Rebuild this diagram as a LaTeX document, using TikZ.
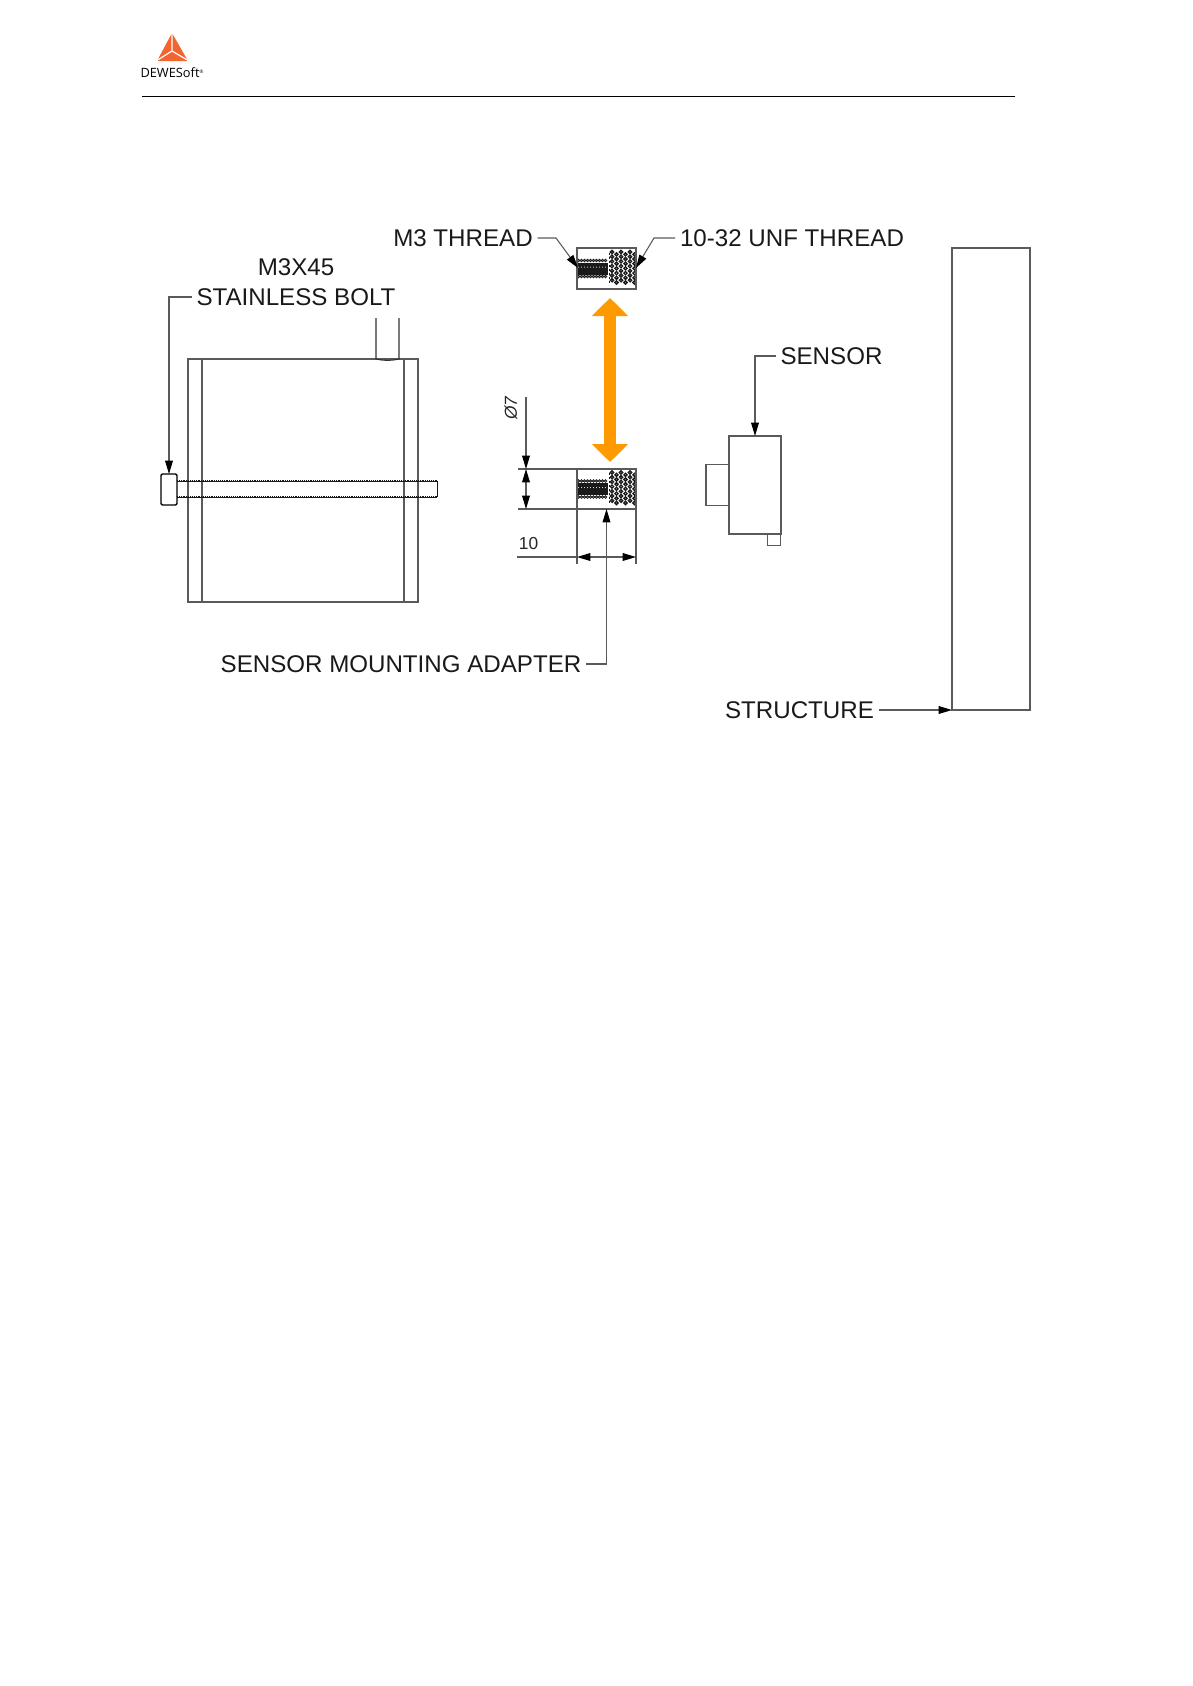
\documentclass[tikz,border=0pt]{standalone}
\usepackage{fontspec}
\setmainfont{Liberation Sans}
\newfontfamily\logofont{Open Sans}
\usetikzlibrary{shapes, arrows.meta, positioning}
\definecolor{linegray}{HTML}{5A5A5A}
\definecolor{threadblack}{HTML}{1A1A1A}
\definecolor{liftorange}{HTML}{FF9900}
\definecolor{logored}{HTML}{F26430}
\tikzstyle{part} = [draw=linegray, line width=.95pt, fill=white, rectangle, inner sep=0pt, outer sep=0pt]
\tikzstyle{callout} = [font=\fontsize{18.1}{20}\selectfont, text=black!90, inner sep=3.5pt]
\tikzstyle{dimtext} = [font=\fontsize{13}{14}\selectfont, text=black!85, inner sep=0pt]
\tikzstyle{leader} = [draw=linegray, line width=.8pt]
\newcommand{\threadbore}{%
  \fill[threadblack] (-29.5,-6) rectangle (1,6);
  \foreach \tx in {-28,-25,...,1} {
    \fill[white] (\tx,-1.5) circle (.5);
    \draw[threadblack, fill=white, line width=.6pt] (\tx,-8) circle (1.3);
    \draw[threadblack, fill=white, line width=.6pt] (\tx,8) circle (1.3);
  }
  \foreach \ty in {-16.5,-11.8,...,16}
    \foreach \tx in {5.5,14.5,23.5} {
      \draw[threadblack, line width=1pt] (\tx,\ty) circle (1.6);
      \draw[threadblack, line width=1pt] (\tx+4.5,\ty+2.3) circle (1.6);
    }
  \draw[threadblack, line width=.7pt, dash pattern=on 1.5pt off 1.5pt] (2.5,-16) -- (2.5,16);
}

\begin{document}
\begin{tikzpicture}[x=.75pt,y=-.75pt,>={Triangle[length=10pt,width=5.8pt,black]}]
      \useasboundingbox (0,0) rectangle (1193,1686);
      % header
      \fill[logored, rounded corners=1pt] (172,33) -- (188,61) -- (157,61) -- cycle;
      \draw[white, line width=.9pt] (172,32) -- (172,51) -- (156,61);
      \draw[white, line width=.9pt] (172,51) -- (189,61);
      \node[font=\logofont\fontsize{9.6}{10}\selectfont, inner sep=0pt] (logo) at (172,73) {DEWESoft\raisebox{.6ex}{\fontsize{3.5}{4}\selectfont ®}};
      \coordinate (ruleL) at (142,96.5);
      \coordinate (ruleR) at (1015,96.5);
      \draw[line width=.9pt] (ruleL) -- (ruleR);
      % plate and bolt
      \node[part, minimum width=172.5pt, minimum height=182.25pt] (plate) at (303,480.5) {};
      \draw[linegray, line width=.95pt] (202,359) -- (202,602);
      \draw[linegray, line width=.95pt] (404,359) -- (404,602);
      \draw[line width=.8pt, black!80] (376,318) -- (376,359) to[bend right=12] (399,359) -- (399,318);
      \node[part, fill=none, minimum width=195pt, minimum height=12pt, draw=none] (shaft) at (307,489) {};
      \draw[line width=.5pt, threadblack] (shaft.south east) -- (shaft.north east);
      \foreach \a/\b in {north west/north east, south west/south east} {
        \draw[threadblack, line width=.7pt] (shaft.\a) -- (shaft.\b);
        \draw[threadblack, line width=1.7pt, dash pattern=on .7pt off .7pt] (shaft.\a) -- (shaft.\b);
      }
      \node[part, draw=black, line width=1.1pt, rounded corners=1pt, minimum width=12pt, minimum height=23.25pt] (head) at (169,489.5) {};
      \node[callout] (boltlabel) at (296,297) {STAINLESS BOLT};
      \node[callout, above of=boltlabel, node distance=22.5pt] (boltsize) {M3X45};
      \draw[leader, ->] (boltlabel.west) -| (head.north);
      % adapter with threads
      \node[part, minimum width=44.25pt, minimum height=30.75pt] (adaptertop) at (606.5,268.5) {};
      \begin{scope}[shift={(adaptertop.center)}]
        \threadbore
      \end{scope}
      \node[part, fill=none, minimum width=44.25pt, minimum height=30.75pt] at (adaptertop) {};
      \node[part, minimum width=44.25pt, minimum height=30pt] (adapter) at (606.5,489) {};
      \begin{scope}[shift={(adapter.center)}]
        \threadbore
      \end{scope}
      \node[part, fill=none, minimum width=44.25pt, minimum height=30pt] at (adapter) {};
      \node[callout] (m3label) at (463,238) {M3 THREAD};
      \node[callout] (unflabel) at (792,238) {10-32 UNF THREAD};
      \coordinate (m3kink) at (556,238);
      \coordinate (m3tip) at (578,268);
      \coordinate (unfkink) at (654,238);
      \coordinate (unftip) at (636,268);
      \draw[leader, ->] (m3label.east) -- (m3kink) -- (m3tip);
      \draw[leader, ->] (unflabel.west) -- (unfkink) -- (unftip);
      % lift arrow
      \coordinate (liftA) at (610,298);
      \coordinate (liftB) at (610,462);
      \draw[liftorange, line width=9pt, {Triangle[length=13.5pt,width=26.5pt]}-{Triangle[length=13.5pt,width=26.5pt]}] (liftA) -- (liftB);
      % dimensions
      \coordinate (dimtop) at (526,469);
      \coordinate (dimbot) at (526,509);
      \coordinate (dimend) at (526,397);
      \coordinate (extT) at (518,469);
      \coordinate (extB) at (518,509);
      \draw[leader] (extT) -- (adapter.north west);
      \draw[leader] (extB) -- (adapter.south west);
      \draw[leader, <-] (dimtop) -- (dimend);
      \draw[leader, <->] (dimtop) -- (dimbot);
      \node[dimtext, rotate=90] (dia) at (511,408) {\itshape Ø7};
      \coordinate (widL) at (577,557);
      \coordinate (widR) at (636,557);
      \coordinate (widS) at (517,557);
      \draw[leader] (adapter.south west) -- ++(0,55);
      \draw[leader] (adapter.south east) -- ++(0,55);
      \draw[leader, <->] (widL) -- (widR);
      \draw[leader] (widS) -- (widL);
      \node[dimtext] (width) at (528.5,544) {10};
      \node[callout] (adapterlabel) at (401,664) {SENSOR MOUNTING ADAPTER};
      \draw[leader, ->] (adapterlabel.east) -| (adapter.south);
      % sensor
      \node[part, minimum width=39pt, minimum height=73.5pt] (sensor) at (755,485) {};
      \node[part, minimum width=17.25pt, minimum height=30.75pt, left=0pt of sensor] (boss) {};
      \node[part, line width=.7pt, minimum width=9.75pt, minimum height=8.25pt] (tab) at (773.5,539.5) {};
      \node[callout] (sensorlabel) at (831.5,356) {SENSOR};
      \draw[leader, ->] (sensorlabel.west) -| (sensor.north);
      % structure
      \node[part, minimum width=58.5pt, minimum height=346.5pt] (structure) at (991,479) {};
      \node[callout] (structurelabel) at (799.5,710) {STRUCTURE};
      \draw[leader, ->] (structurelabel.east) -- (structure.south west);
    \end{tikzpicture}
\end{document}
